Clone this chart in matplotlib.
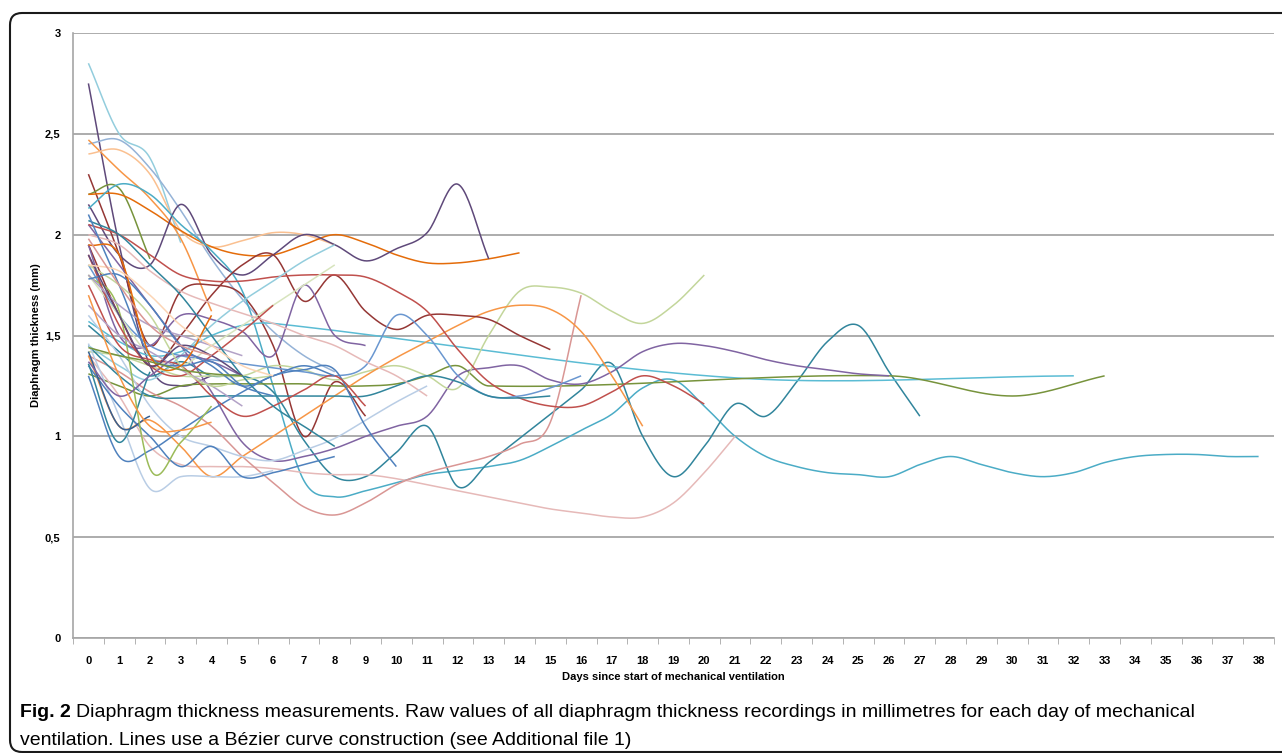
import numpy as np
import matplotlib.pyplot as plt
from matplotlib.patches import FancyBboxPatch

# thickness (mm) per day since start of ventilation, one list per patient
# (lists start at day 0 unless a days list is given)
p01 = [2.85, 2.50, 2.38, 1.96]
p02 = [2.75, 1.95, 1.35, 1.25, 1.30]
p03 = [2.45, 2.47, 2.33, 2.12, 1.88, 1.68, 1.52, 1.40, 1.32]
p04 = [2.47, 2.32, 2.18, 1.98, 1.62]
p05 = [2.40, 2.42, 2.30, 2.02, 1.94, 1.97, 2.01, 2.00, 1.95]
p06 = [2.30, 1.90, 1.45, 1.72, 1.75, 1.70, 1.45, 1.00, 1.27, 1.10]
p07 = [2.20, 2.23, 1.88]
p08 = [2.20, 2.20, 2.12, 2.02, 1.94, 1.90, 1.90, 1.95, 2.00, 1.96, 1.90, 1.86, 1.86, 1.88, 1.91]
p09 = [2.15, 1.90, 1.85, 2.15, 1.90, 1.80, 1.90, 2.00, 1.95, 1.87, 1.93, 2.01, 2.25, 1.88]
p10 = [2.13, 2.25, 2.20, 2.05, 1.92, 1.72, 1.25, 0.78, 0.70, 0.73, 0.77, 0.81, 0.83,
       0.85, 0.88, 0.95, 1.03, 1.11, 1.24, 1.28, 1.15, 1.00, 0.90, 0.85, 0.82, 0.81,
       0.80, 0.86, 0.90, 0.86, 0.82, 0.80, 0.82, 0.87, 0.90, 0.91, 0.91, 0.90, 0.90]
p11 = [1.55, 1.42, 1.30, 1.37, 1.30, 1.30, 1.22, 0.98, 0.80, 0.80, 0.92, 1.05, 0.75,
       0.87, 0.99, 1.11, 1.23, 1.36, 1.00, 0.80, 0.95, 1.16, 1.10, 1.27, 1.47, 1.55,
       1.32, 1.10]
p12_days = [0, 1, 2, 3, 4, 5, 6, 21, 32]
p12 = [1.57, 1.47, 1.40, 1.42, 1.50, 1.55, 1.56, 1.29, 1.30]
p13_days = [0, 1, 2, 3, 4, 5, 6, 7, 8, 9, 10, 11, 12, 13, 26, 30, 33]
p13 = [1.31, 1.25, 1.20, 1.25, 1.26, 1.26, 1.26, 1.26, 1.25, 1.25, 1.26, 1.30, 1.35,
       1.25, 1.30, 1.20, 1.30]
p14 = [2.05, 1.85, 1.65, 1.45, 1.22, 0.97, 0.88, 0.90, 0.94, 1.00, 1.05, 1.10, 1.30,
       1.34, 1.35, 1.28, 1.26, 1.32, 1.42, 1.46, 1.45, 1.42, 1.38, 1.35, 1.33, 1.31, 1.30]
p15 = [1.42, 1.40, 1.35, 1.30, 1.30, 1.30, 1.35, 1.33, 1.28, 1.32, 1.35, 1.30, 1.24,
       1.50, 1.72, 1.74, 1.71, 1.62, 1.56, 1.65, 1.80]
p16 = [1.40, 1.20, 0.95, 0.86, 0.85, 0.85, 0.84, 0.82, 0.81, 0.81, 0.79, 0.76, 0.73,
       0.70, 0.67, 0.64, 0.62, 0.60, 0.60, 0.67, 0.82, 1.00]
p17 = [1.40, 1.32, 1.22, 1.15, 1.05, 0.90, 0.77, 0.65, 0.61, 0.67, 0.76, 0.82, 0.86,
       0.90, 0.96, 1.07, 1.70]
p18 = [1.40, 1.05, 1.08, 0.95, 0.80, 0.90, 1.00, 1.10, 1.20, 1.30, 1.39, 1.47, 1.55,
       1.62, 1.65, 1.63, 1.52, 1.30, 1.05]
p19 = [1.95, 1.60, 1.35, 1.50, 1.70, 1.85, 1.90, 1.67, 1.80, 1.62, 1.53, 1.60, 1.60,
       1.58, 1.50, 1.43]
p20 = [2.05, 2.00, 1.90, 1.80, 1.77, 1.77, 1.79, 1.80, 1.80, 1.79, 1.72, 1.62, 1.43,
       1.27, 1.19, 1.15, 1.15, 1.22, 1.30, 1.25, 1.16]
p21 = [1.85, 1.60, 1.45, 1.40, 1.38, 1.36, 1.34, 1.32, 1.30, 1.35, 1.60, 1.50, 1.30,
       1.20, 1.20, 1.24, 1.30]
p22 = [1.45, 1.30, 1.20, 1.19, 1.20, 1.20, 1.20, 1.20, 1.20, 1.20, 1.25, 1.30, 1.27,
       1.20, 1.19, 1.20]
p23 = [1.95, 1.50, 1.45, 1.60, 1.58, 1.52, 1.40, 1.75, 1.50, 1.45]
p24 = [1.45, 1.35, 1.28, 1.40, 1.55, 1.67, 1.77, 1.87, 1.95]
p25 = [1.80, 1.60, 1.40, 1.35, 1.45, 1.55, 1.65, 1.75, 1.85]
p26 = [2.00, 1.95, 1.82, 1.72, 1.66, 1.61, 1.56, 1.50, 1.45, 1.37, 1.30, 1.20]
p27 = [1.60, 1.40, 1.15, 1.00, 0.95, 0.90, 0.88, 0.93, 0.99, 1.08, 1.17, 1.25]
p28 = [1.46, 1.10, 0.74, 0.80, 0.80, 0.80, 0.83]
p29 = [1.35, 1.15, 1.00, 0.85, 0.95, 0.80, 0.82, 0.86, 0.90]
p30 = [1.30, 0.90, 0.93, 1.03, 1.13, 1.22, 1.30, 1.33, 1.33, 1.05, 0.85]
p31 = [1.36, 0.97, 1.32]
p32 = [1.42, 1.05, 1.10]
p33 = [1.80, 1.62, 0.84, 0.97, 1.15]
p34 = [1.90, 1.55, 1.35, 1.30, 1.40, 1.52, 1.65]
p35 = [1.75, 1.45, 1.38, 1.35, 1.20, 1.10, 1.15, 1.23, 1.30, 1.15]
p36 = [1.80, 1.65, 1.55, 1.50, 1.45, 1.40]
p37 = [1.65, 1.50, 1.42, 1.33, 1.25, 1.15]
p38 = [1.37, 1.20, 1.30, 1.40, 1.37, 1.30]
p39 = [1.85, 1.75, 1.60, 1.35, 1.25, 1.28, 1.30]
p40 = [1.78, 1.80, 1.65, 1.45, 1.35, 1.25, 1.30, 1.35, 1.30]
p41 = [2.07, 2.00, 1.85, 1.70, 1.50, 1.30, 1.15, 1.05, 0.95]
p42 = [2.10, 1.75, 1.40, 1.35, 1.37, 1.25, 1.20]
p43 = [1.95, 1.90, 1.40, 1.35, 1.60]
p44 = [1.90, 1.60, 1.35, 1.45, 1.40, 1.30]
p45 = [1.85, 1.82, 1.70, 1.55, 1.45, 1.35, 1.30]
p46 = [1.44, 1.40, 1.37, 1.33, 1.31, 1.30]
p47 = [1.70, 1.30, 1.05, 1.03, 1.07]
p48 = [1.98, 1.75, 1.55, 1.45, 1.40]

day_labels = [str(d) for d in range(39)]
y_ticks = [0, 0.5, 1, 1.5, 2, 2.5, 3]
y_labels = ["0", "0,5", "1", "1,5", "2", "2,5", "3"]

caption_1 = ("Diaphragm thickness measurements. Raw values of all diaphragm thickness "
             "recordings in millimetres for each day of mechanical")
caption_2 = "ventilation. Lines use a Bézier curve construction (see Additional file 1)"

series = [
    (None, p01, '#93CDDD'), (None, p02, '#5F497A'), (None, p03, '#95B3D7'),
    (None, p04, '#F79646'), (None, p05, '#FAC090'), (None, p06, '#953735'),
    (None, p07, '#77933C'), (None, p08, '#E46C0A'), (None, p09, '#5F497A'),
    (None, p10, '#4BACC6'), (None, p11, '#31859C'), (p12_days, p12, '#5BBCD4'),
    (p13_days, p13, '#77933C'), (None, p14, '#8064A2'), (None, p15, '#C3D69B'),
    (None, p16, '#E6B9B8'), (None, p17, '#D99694'), (None, p18, '#F79646'),
    (None, p19, '#953735'), (None, p20, '#C0504D'), (None, p21, '#6A97D0'),
    (None, p22, '#31859C'), (None, p23, '#8064A2'), (None, p24, '#93CDDD'),
    (None, p25, '#D7E4BD'), (None, p26, '#E6B9B8'), (None, p27, '#B9CDE5'),
    (None, p28, '#B9CDE5'), (None, p29, '#4F81BD'), (None, p30, '#4F81BD'),
    (None, p31, '#31859C'), (None, p32, '#376092'), (None, p33, '#9BBB59'),
    (None, p34, '#C0504D'), (None, p35, '#C0504D'), (None, p36, '#B3A2C7'),
    (None, p37, '#B3A2C7'), (None, p38, '#8064A2'), (None, p39, '#C3D69B'),
    (None, p40, '#4F81BD'), (None, p41, '#31859C'), (None, p42, '#4F81BD'),
    (None, p43, '#E46C0A'), (None, p44, '#5F497A'), (None, p45, '#FCD5B5'),
    (None, p46, '#77933C'), (None, p47, '#F79646'), (None, p48, '#D99694'),
]


def smooth(xs, ys, n=24):
    # cubic Hermite through the points, slopes from neighbours (Catmull-Rom like)
    xs = np.asarray(xs, float)
    ys = np.asarray(ys, float)
    if len(xs) < 3:
        return xs, ys
    m = np.empty_like(ys)
    m[1:-1] = (ys[2:] - ys[:-2]) / (xs[2:] - xs[:-2])
    m[0] = (ys[1] - ys[0]) / (xs[1] - xs[0])
    m[-1] = (ys[-1] - ys[-2]) / (xs[-1] - xs[-2])
    out_x, out_y = [], []
    t = np.linspace(0, 1, n)
    for i in range(len(xs) - 1):
        h = xs[i + 1] - xs[i]
        h00 = 2 * t**3 - 3 * t**2 + 1
        h10 = t**3 - 2 * t**2 + t
        h01 = -2 * t**3 + 3 * t**2
        h11 = t**3 - t**2
        out_x.append(xs[i] + h * t)
        out_y.append(h00 * ys[i] + h10 * h * m[i] + h01 * ys[i + 1] + h11 * h * m[i + 1])
    return np.concatenate(out_x), np.concatenate(out_y)


plt.rcParams['font.family'] = ['Liberation Sans', 'DejaVu Sans']

fig = plt.figure(figsize=(12.82, 7.53), dpi=100)
ax = fig.add_axes([73 / 1282, 1 - 638 / 753, (1274 - 73) / 1282, (638 - 33) / 753])

for days, vals, col in series:
    if days is None:
        days = list(range(len(vals)))
    sx, sy = smooth(days, vals)
    ax.plot(sx, sy, color=col, lw=1.1, solid_capstyle='butt')

ax.set_xlim(-0.5, 38.5)
ax.set_ylim(0, 3)
ax.set_yticks(y_ticks)
ax.set_yticklabels(y_labels, fontweight='bold', fontsize=8)
ax.set_xticks(range(39))
ax.set_xticklabels(day_labels, fontweight='bold', fontsize=8)
ax.set_xticks(np.arange(-0.5, 39, 1), minor=True)
ax.tick_params(axis='x', which='major', length=0, pad=13)
ax.tick_params(axis='x', which='minor', length=4, color='#A6A6A6', direction='out')
ax.tick_params(axis='y', length=0, pad=9)
ax.yaxis.grid(True, color='#A6A6A6', lw=1.3)
ax.set_axisbelow(True)
for s in ['top', 'right']:
    ax.spines[s].set_visible(False)
for s in ['left', 'bottom']:
    ax.spines[s].set_color('#A6A6A6')
    ax.spines[s].set_linewidth(1.2)

ax.set_xlabel("Days since start of mechanical ventilation", fontweight='bold',
              fontsize=8, labelpad=4)
ax.set_ylabel("Diaphragm thickness (mm)", fontweight='bold', fontsize=8, labelpad=3)

# rounded frame around the figure
frame = FancyBboxPatch((0.10, 0.01), 13.5, 7.39,
                       boxstyle='round,pad=0,rounding_size=0.12',
                       transform=fig.dpi_scale_trans, fill=False,
                       edgecolor='#1a1a1a', lw=1.5)
fig.patches.append(frame)

t1 = fig.text(20 / 1282, 1 - 717 / 753, "Fig. 2", fontweight='bold', fontsize=14,
              ha='left', va='baseline')
fig.canvas.draw()
bb = t1.get_window_extent()
fig.text((bb.x1 + 5) / 1282, 1 - 717 / 753, caption_1, fontsize=14,
         ha='left', va='baseline')
fig.text(20 / 1282, 1 - 745 / 753, caption_2, fontsize=14, ha='left', va='baseline')

fig.savefig('out.png', dpi=100)
